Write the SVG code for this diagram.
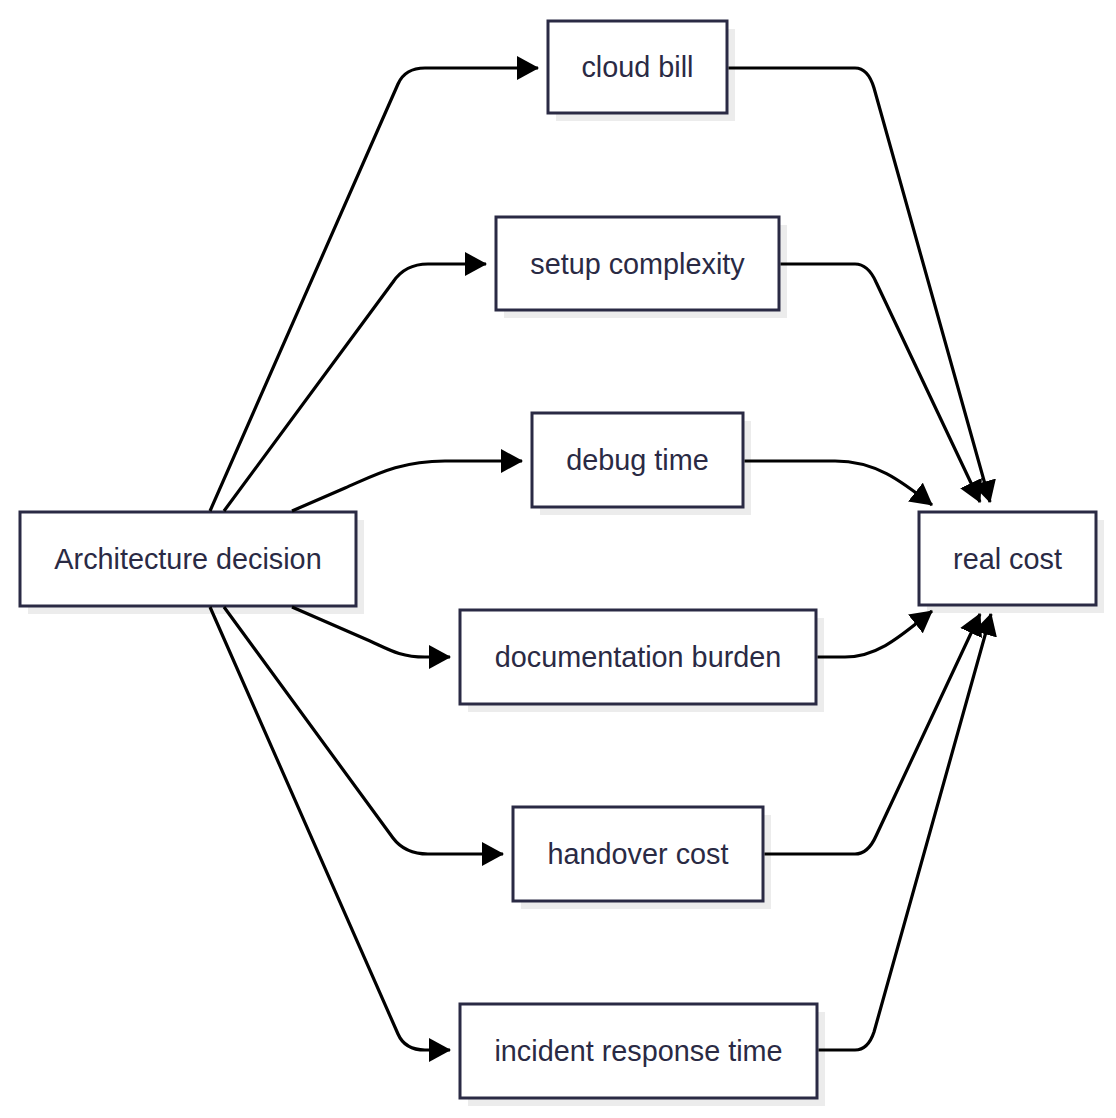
<svg xmlns="http://www.w3.org/2000/svg" width="1116" height="1118" viewBox="0 0 1116 1118">
<style>
.shadow{fill:#ececec;stroke:none}
.box{fill:#ffffff;stroke:#2a2a44;stroke-width:3}
.lbl{font-family:"Liberation Sans",Arial,sans-serif;font-size:28.8px;fill:#2a2a44;text-anchor:middle;dominant-baseline:central}
.edge{fill:none;stroke:#000;stroke-width:3.2;stroke-linejoin:round;stroke-linecap:butt}
</style>
<defs>
<marker id="arr" markerUnits="userSpaceOnUse" markerWidth="22" markerHeight="24" refX="21" refY="12" orient="auto">
<path d="M0,0 L22,12 L0,24 z" fill="#000"/>
</marker>
</defs>
<rect width="1116" height="1118" fill="#ffffff"/>
<g id="node-architecture">
<rect class="shadow" x="28" y="520" width="336" height="94"/>
<rect class="box" x="20" y="512" width="336" height="94"/>
<text class="lbl" x="188" y="559">Architecture decision</text>
</g>
<g id="node-cloud-bill">
<rect class="shadow" x="556" y="29" width="179" height="92"/>
<rect class="box" x="548" y="21" width="179" height="92"/>
<text class="lbl" x="637.5" y="67">cloud bill</text>
</g>
<g id="node-setup">
<rect class="shadow" x="504" y="225" width="283" height="93"/>
<rect class="box" x="496" y="217" width="283" height="93"/>
<text class="lbl" x="637.5" y="263.5">setup complexity</text>
</g>
<g id="node-debug">
<rect class="shadow" x="540" y="421" width="211" height="94"/>
<rect class="box" x="532" y="413" width="211" height="94"/>
<text class="lbl" x="637.5" y="460">debug time</text>
</g>
<g id="node-documentation">
<rect class="shadow" x="468" y="618" width="356" height="94"/>
<rect class="box" x="460" y="610" width="356" height="94"/>
<text class="lbl" x="638" y="657">documentation burden</text>
</g>
<g id="node-handover">
<rect class="shadow" x="521" y="815" width="250" height="94"/>
<rect class="box" x="513" y="807" width="250" height="94"/>
<text class="lbl" x="638" y="854">handover cost</text>
</g>
<g id="node-incident">
<rect class="shadow" x="468" y="1012" width="357" height="94"/>
<rect class="box" x="460" y="1004" width="357" height="94"/>
<text class="lbl" x="638.5" y="1051">incident response time</text>
</g>
<g id="node-real-cost">
<rect class="shadow" x="927" y="520" width="177" height="93"/>
<rect class="box" x="919" y="512" width="177" height="93"/>
<text class="lbl" x="1007.5" y="558.5">real cost</text>
</g>
<g id="connectors">
<path class="edge" marker-end="url(#arr)" d="M210,511 L398,84 Q405,68 425,68 L538,68"/>
<path class="edge" marker-end="url(#arr)" d="M224,511 L393,282 Q405,264 428,264 L486,264"/>
<path class="edge" marker-end="url(#arr)" d="M292,511 L345,488 C375,475 400,461 445,461 L522,461"/>
<path class="edge" marker-end="url(#arr)" d="M292,607 L370,641 C388,649 400,657 425,657 L450,657"/>
<path class="edge" marker-end="url(#arr)" d="M224,607 L393,838 Q405,854 428,854 L503,854"/>
<path class="edge" marker-end="url(#arr)" d="M210,607 L398,1034 Q405,1050 425,1050 L450,1050"/>
<path class="edge" marker-end="url(#arr)" d="M728.5,68 L855,68 Q868,68 874,88 L990,502"/>
<path class="edge" marker-end="url(#arr)" d="M780.5,264 L855,264 Q868,264 876,282 L980,502"/>
<path class="edge" marker-end="url(#arr)" d="M744.5,461 L835,461 C875,461 900,480 932,505"/>
<path class="edge" marker-end="url(#arr)" d="M817.5,657 L845,657 C880,657 905,632 932,611"/>
<path class="edge" marker-end="url(#arr)" d="M764.5,854 L855,854 Q868,854 876,836 L980,614"/>
<path class="edge" marker-end="url(#arr)" d="M818.5,1050 L855,1050 Q868,1050 874,1032 L991,614"/>
</g>
</svg>
